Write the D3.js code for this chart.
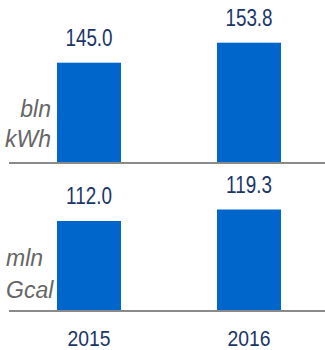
<!DOCTYPE html>
<html><head><meta charset="utf-8">
<script src="https://cdn.jsdelivr.net/npm/d3@7"></script>
<style>
html,body{margin:0;padding:0;background:#fff;}
svg{display:block;}
</style></head>
<body>
<script>
const years = ["2015", "2016"];
const electricity = [145.0, 153.8];
const heat = [112.0, 119.3];
const unitsTop = ["bln", "kWh"];
const unitsBottom = ["mln", "Gcal"];

const W = 325, H = 350;
const svg = d3.select("body").append("svg").attr("width", W).attr("height", H);

const x = d3.scaleBand().domain(years).range([57, 281]).paddingInner(0.6).paddingOuter(0);

const panels = [
  {values: electricity, units: unitsTop, base: 162, top: 42.7, vmin: 101.3, anchor: "end", ux: 51, uy: 117, lineGap: 30},
  {values: heat, units: unitsBottom, base: 310, top: 209.5, vmin: 55.5, anchor: "start", ux: 6, uy: 266, lineGap: 32}
];

const numFont = "'Liberation Sans',Arial,sans-serif";
const squeeze = 0.82;

panels.forEach(p => {
  const y = d3.scaleLinear().domain([p.vmin, d3.max(p.values)]).range([p.base, p.top]);
  const g = svg.append("g");
  g.selectAll("rect").data(p.values).join("rect")
    .attr("x", (d, i) => x(years[i]))
    .attr("width", x.bandwidth())
    .attr("y", d => y(d))
    .attr("height", d => p.base - y(d))
    .attr("fill", "#0066cc");
  g.selectAll("text.val").data(p.values).join("text")
    .attr("class", "val")
    .attr("transform", (d, i) => `translate(${x(years[i]) + x.bandwidth() / 2},${y(d) - 16.5}) scale(${squeeze},1)`)
    .attr("text-anchor", "middle")
    .attr("font-family", numFont)
    .attr("font-size", 23)
    .attr("fill", "#1a3668")
    .text(d => d.toFixed(1));
  g.append("line")
    .attr("x1", 9).attr("x2", W)
    .attr("y1", p.base + 1).attr("y2", p.base + 1)
    .attr("stroke", "#8a8a8a").attr("stroke-width", 2);
  g.selectAll("text.unit").data(p.units).join("text")
    .attr("class", "unit")
    .attr("x", p.ux)
    .attr("y", (d, i) => p.uy + i * p.lineGap)
    .attr("text-anchor", p.anchor)
    .attr("font-family", "'Liberation Sans',Arial,sans-serif")
    .attr("font-style", "italic")
    .attr("font-size", 23)
    .attr("fill", "#666666")
    .text(d => d);
});

svg.selectAll("text.year").data(years).join("text")
  .attr("class", "year")
  .attr("transform", d => `translate(${x(d) + x.bandwidth() / 2},345.5) scale(${squeeze + 0.04},1)`)
  .attr("text-anchor", "middle")
  .attr("font-family", numFont)
  .attr("font-size", 22.5)
  .attr("fill", "#1a3668")
  .text(d => d);
</script>
</body></html>
